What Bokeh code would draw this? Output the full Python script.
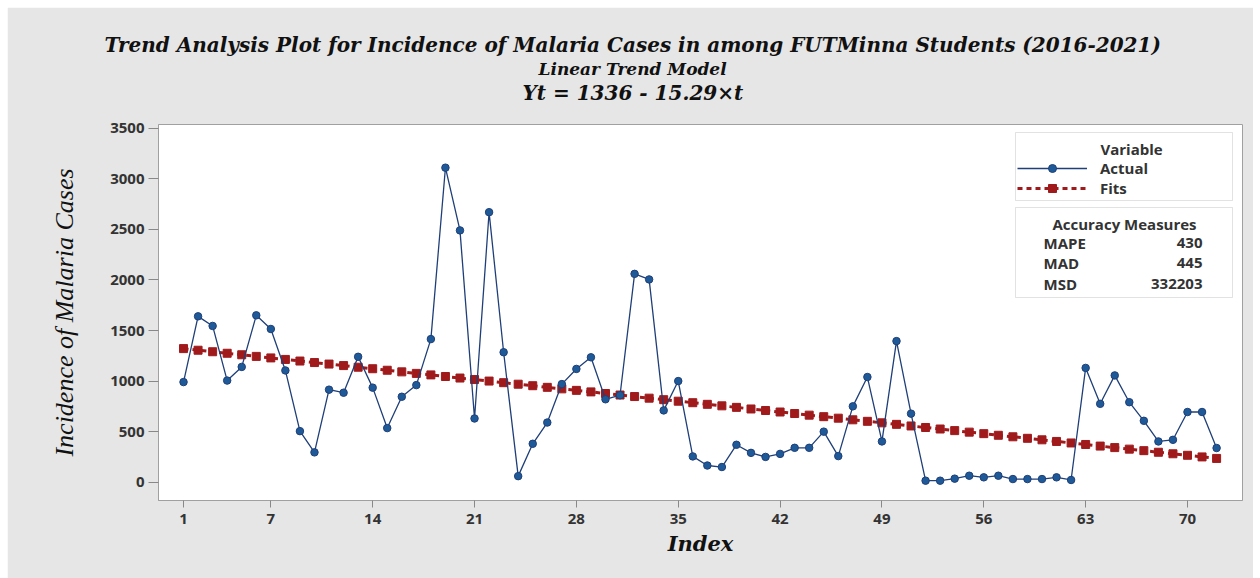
from bokeh.plotting import figure
from bokeh.models import Range1d, FixedTicker, Label, BoxAnnotation, Legend, LegendItem, Title
from bokeh.embed import file_html
from bokeh.resources import INLINE

# ---- data ----
index = list(range(1, 73))
actual = [990, 1640, 1545, 1005, 1140, 1650, 1515, 1105, 505, 295,
          915, 885, 1240, 935, 535, 845, 960, 1415, 3110, 2490,
          630, 2670, 1285, 60, 380, 590, 970, 1120, 1235, 820,
          860, 2060, 2005, 710, 1000, 255, 165, 150, 370, 290,
          250, 280, 340, 340, 500, 258, 750, 1040, 403, 1395,
          678, 15, 15, 35, 64, 48, 64, 31, 31, 31,
          48, 22, 1130, 775, 1056, 791, 607, 403, 419, 694,
          694, 338]
fits = [1321, 1305, 1290, 1275, 1260, 1244, 1229, 1214, 1198, 1183,
        1168, 1153, 1137, 1122, 1107, 1091, 1076, 1061, 1045, 1030,
        1015, 1000, 984, 969, 954, 938, 923, 908, 893, 877,
        862, 847, 831, 816, 801, 786, 770, 755, 740, 724,
        709, 694, 679, 663, 648, 633, 617, 602, 587, 572,
        556, 541, 526, 510, 495, 480, 464, 449, 434, 419,
        403, 388, 373, 357, 342, 327, 312, 296, 281, 266,
        250, 235]
x_ticks = [1, 7, 14, 21, 28, 35, 42, 49, 56, 63, 70]
y_ticks = [0, 500, 1000, 1500, 2000, 2500, 3000, 3500]
title_lines = ["Trend Analysis Plot for Incidence of Malaria Cases in among FUTMinna Students (2016-2021)",
               "Linear Trend Model",
               "Yt = 1336 - 15.29\u00d7t"]
y_label = "Incidence of Malaria Cases"
x_label = "Index"
legend_title = "Variable"
series_names = ["Actual", "Fits"]
accuracy_title = "Accuracy Measures"
accuracy_names = ["MAPE", "MAD", "MSD"]
accuracy_values = ["430", "445", "332203"]

RED = "#a01a1c"
BLUE_LINE = "#1f3f78"
BLUE_PT = "#1f5a98"
PANEL = "#e6e6e6"
FRAME = "#a0a0a0"
TXT = "#333333"

p = figure(width=1246, height=571, output_backend="svg", toolbar_location=None,
           x_range=Range1d(-0.72, 73.78), y_range=Range1d(-181, 3537),
           min_border_left=151, min_border_right=11, min_border_top=117, min_border_bottom=78)
p.styles = {"margin-left": "7px", "margin-top": "7px"}

p.border_fill_color = PANEL
p.background_fill_color = "white"
p.outline_line_color = FRAME
p.xgrid.visible = False
p.ygrid.visible = False

fit_line = p.line(index, fits, line_color=RED, line_width=3, line_dash="5 4")
fit_pts = p.scatter(index, fits, marker="square", size=8, fill_color=RED, line_color=RED)
act_line = p.line(index, actual, line_color=BLUE_LINE, line_width=1.3)
act_pts = p.scatter(index, actual, marker="circle", size=7.5, fill_color=BLUE_PT, line_color=BLUE_LINE)

# axes
p.xaxis.ticker = FixedTicker(ticks=x_ticks)
p.yaxis.ticker = FixedTicker(ticks=y_ticks)
for ax in (p.xaxis, p.yaxis):
    ax.axis_line_color = FRAME
    ax.major_tick_line_color = "#888888"
    ax.major_tick_in = 0
    ax.minor_tick_out = 0
    ax.minor_tick_in = 0
    ax.major_label_text_font = "Open Sans"
    ax.major_label_text_font_style = "bold"
    ax.major_label_text_font_size = "15px"
    ax.major_label_text_color = TXT
p.yaxis.major_tick_out = 10
p.yaxis.major_label_standoff = 4
p.xaxis.major_tick_out = 7
p.xaxis.major_label_standoff = 6

p.yaxis.axis_label = y_label
p.yaxis.axis_label_text_font = "Liberation Serif"
p.yaxis.axis_label_text_font_style = "italic"
p.yaxis.axis_label_text_font_size = "26px"
p.yaxis.axis_label_text_color = "#111111"
p.yaxis.axis_label_standoff = 28

p.xaxis.axis_label = x_label
p.xaxis.axis_label_text_font = "DejaVu Serif"
p.xaxis.axis_label_text_font_style = "bold italic"
p.xaxis.axis_label_text_font_size = "21px"
p.xaxis.axis_label_text_color = "#111111"
p.xaxis.axis_label_standoff = 4

# titles above the frame (added closest-first); a panel-coloured spacer keeps the gap
p.add_layout(Title(text=".", text_color=PANEL, text_font_size="2px", standoff=17), "above")
title_specs = [(title_lines[2], "20px", 364), (title_lines[1], "17px", 380), (title_lines[0], "20px", -54)]
for txt, fs, off in title_specs:
    p.add_layout(Title(text=txt, align="left", offset=off, text_font="DejaVu Serif",
                       text_font_style="bold italic", text_font_size=fs,
                       text_color="#111111", standoff=0), "above")

# legend box (drawn as annotation so the "Variable" caption can sit on top of it)
p.add_layout(BoxAnnotation(left=857, right=1074, top=368, bottom=300,
                           left_units="screen", right_units="screen",
                           top_units="screen", bottom_units="screen",
                           fill_color="white", fill_alpha=1.0,
                           line_color=FRAME, line_width=1))
p.add_layout(Label(x=942, y=352, x_units="screen", y_units="screen", text=legend_title,
                   text_align="left", text_baseline="middle", text_font="Open Sans",
                   text_font_style="bold", text_font_size="15px", text_color=TXT))
legend = Legend(items=[LegendItem(label=series_names[0], renderers=[act_line, act_pts]),
                       LegendItem(label=series_names[1], renderers=[fit_line, fit_pts])],
                location=(857, 300), margin=0, padding=2, spacing=0,
                label_text_font="Open Sans", label_text_font_style="bold",
                label_text_font_size="15px", label_text_color=TXT,
                label_height=20, glyph_height=20, glyph_width=70,
                label_standoff=13, label_width=130,
                border_line_alpha=0, background_fill_alpha=0)
p.add_layout(legend)

# accuracy box
p.add_layout(BoxAnnotation(left=857, right=1074, top=293, bottom=203,
                           left_units="screen", right_units="screen",
                           top_units="screen", bottom_units="screen",
                           fill_color="white", fill_alpha=1.0,
                           line_color=FRAME, line_width=1))
p.add_layout(Label(x=966, y=277, x_units="screen", y_units="screen", text=accuracy_title,
                   text_align="center", text_baseline="middle", text_font="Open Sans",
                   text_font_style="bold", text_font_size="15px", text_color=TXT))
for i, (nm, vv) in enumerate(zip(accuracy_names, accuracy_values)):
    yy = 258 - i * 20.5
    p.add_layout(Label(x=885, y=yy, x_units="screen", y_units="screen", text=nm,
                       text_align="left", text_baseline="middle", text_font="Open Sans",
                       text_font_style="bold", text_font_size="15px", text_color=TXT))
    p.add_layout(Label(x=1044, y=yy, x_units="screen", y_units="screen", text=vv,
                       text_align="right", text_baseline="middle", text_font="Open Sans",
                       text_font_style="bold", text_font_size="15px", text_color=TXT))

open("out.html", "w").write(file_html(p, INLINE))
